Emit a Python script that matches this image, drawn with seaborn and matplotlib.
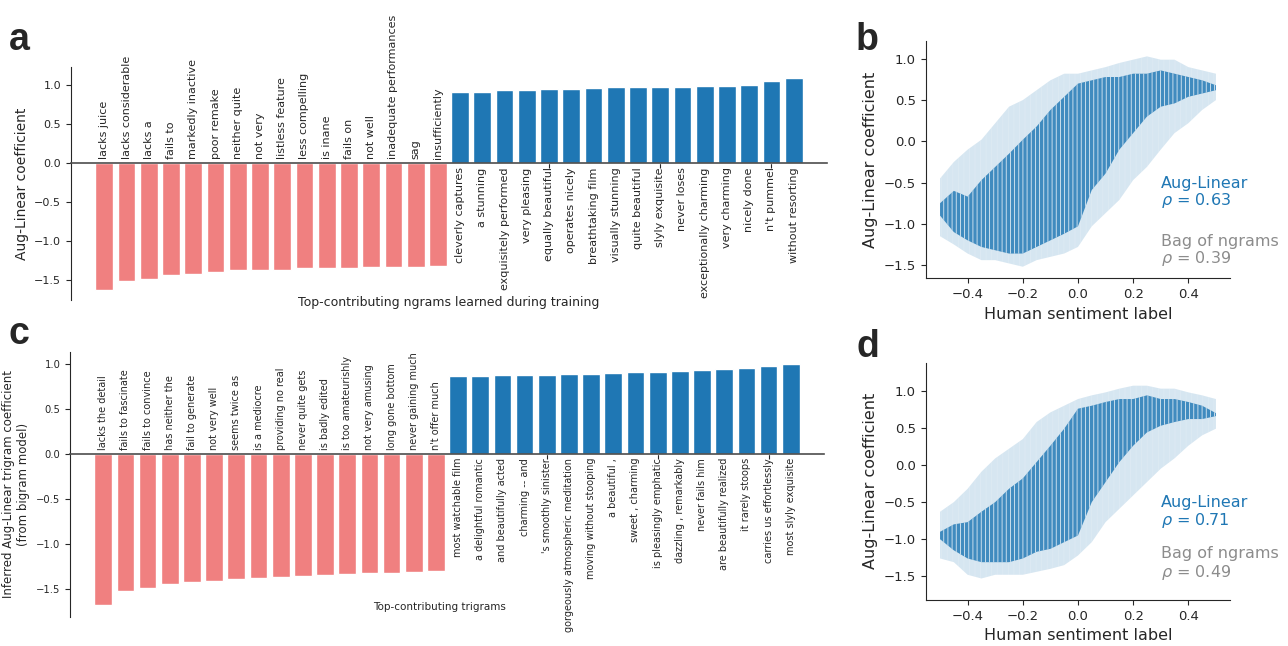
import matplotlib
matplotlib.use('Agg')
import pandas as pd
import matplotlib.pyplot as plt
import seaborn as sns

# ---- data ----
# a: top-contributing ngrams
ngram_labels = ['lacks juice', 'lacks considerable', 'lacks a', 'fails to', 'markedly inactive',
                'poor remake', 'neither quite', 'not very', 'listless feature', 'less compelling',
                'is inane', 'fails on', 'not well', 'inadequate performances', 'sag', 'insufficiently',
                'cleverly captures', 'a stunning', 'exquisitely performed', 'very pleasing',
                'equally beautiful', 'operates nicely', 'breathtaking film', 'visually stunning',
                'quite beautiful', 'slyly exquisite', 'never loses', 'exceptionally charming',
                'very charming', 'nicely done', "n't pummel", 'without resorting']
ngram_coefs = [-1.63, -1.51, -1.49, -1.44, -1.42, -1.40, -1.38, -1.38, -1.37, -1.345,
               -1.345, -1.345, -1.33, -1.33, -1.33, -1.32,
               0.92, 0.92, 0.935, 0.935, 0.947, 0.947, 0.96, 0.973,
               0.973, 0.973, 0.973, 0.986, 0.986, 1.0, 1.05, 1.10]

# c: top-contributing trigrams
trigram_labels = ['lacks the detail', 'fails to fascinate', 'fails to convince', 'has neither the',
                  'fail to generate', 'not very well', 'seems twice as', 'is a mediocre',
                  'providing no real', 'never quite gets', 'is badly edited', 'is too amateurishly',
                  'not very amusing', 'long gone bottom', 'never gaining much', "n't offer much",
                  'most watchable film', 'a delightful romantic', 'and beautifully acted',
                  'charming -- and', "'s smoothly sinister", 'gorgeously atmospheric meditation',
                  'moving without stooping', 'a beautiful ,', 'sweet , charming',
                  'is pleasingly emphatic', 'dazzling , remarkably', 'never fails him',
                  'are beautifully realized', 'it rarely stoops', 'carries us effortlessly',
                  'most slyly exquisite']
trigram_coefs = [-1.68, -1.53, -1.49, -1.445, -1.42, -1.41, -1.39, -1.38, -1.365, -1.355,
                 -1.345, -1.335, -1.32, -1.32, -1.31, -1.30,
                 0.863, 0.863, 0.874, 0.874, 0.874, 0.885, 0.885, 0.896,
                 0.907, 0.907, 0.919, 0.93, 0.941, 0.952, 0.974, 0.996]

# b/d: extent of the point cloud per human sentiment label column
sent_x = [-0.5, -0.45, -0.4, -0.35, -0.3, -0.25, -0.2, -0.15, -0.1, -0.05, 0.0,
          0.05, 0.1, 0.15, 0.2, 0.25, 0.3, 0.35, 0.4, 0.45, 0.5]
b_outer_lo = [-1.15, -1.25, -1.36, -1.44, -1.44, -1.48, -1.52, -1.44, -1.40, -1.36, -1.28,
              -1.03, -0.87, -0.71, -0.47, -0.31, -0.10, 0.10, 0.22, 0.38, 0.50]
b_outer_hi = [-0.45, -0.25, -0.10, 0.02, 0.22, 0.42, 0.50, 0.62, 0.74, 0.82, 0.82,
              0.86, 0.90, 0.95, 0.99, 1.03, 0.99, 0.99, 0.90, 0.86, 0.82]
b_core_lo = [-0.90, -1.10, -1.20, -1.28, -1.32, -1.36, -1.36, -1.28, -1.20, -1.12, -1.03,
             -0.59, -0.39, -0.10, 0.10, 0.30, 0.42, 0.46, 0.54, 0.58, 0.62]
b_core_hi = [-0.75, -0.60, -0.67, -0.47, -0.31, -0.15, 0.02, 0.18, 0.38, 0.54, 0.70,
             0.74, 0.78, 0.78, 0.82, 0.82, 0.86, 0.82, 0.78, 0.74, 0.68]

d_outer_lo = [-1.26, -1.31, -1.48, -1.53, -1.48, -1.48, -1.48, -1.44, -1.40, -1.35, -1.22,
              -1.04, -0.77, -0.59, -0.41, -0.23, -0.05, 0.09, 0.26, 0.40, 0.49]
d_outer_hi = [-0.63, -0.50, -0.32, -0.09, 0.09, 0.22, 0.35, 0.58, 0.71, 0.80, 0.89,
              0.94, 0.98, 1.03, 1.07, 1.07, 1.03, 1.03, 0.98, 0.94, 0.89]
d_core_lo = [-1.00, -1.15, -1.26, -1.31, -1.31, -1.31, -1.26, -1.17, -1.13, -1.04, -0.95,
             -0.50, -0.23, 0.04, 0.26, 0.44, 0.53, 0.58, 0.62, 0.62, 0.66]
d_core_hi = [-0.90, -0.80, -0.77, -0.63, -0.50, -0.32, -0.18, 0.04, 0.26, 0.49, 0.76,
             0.80, 0.85, 0.89, 0.89, 0.94, 0.89, 0.89, 0.85, 0.80, 0.70]

b_rho = ['0.63', '0.39']
d_rho = ['0.71', '0.49']

NEG = '#F08080'
POS = '#1f77b4'
GRAY = '#8c8c8c'

sns.set_style('ticks')
plt.rcParams['font.family'] = ['DejaVu Sans']
plt.rcParams['hatch.color'] = 'white'
plt.rcParams['hatch.linewidth'] = 0.6


def bar_panel(ax, labels, coefs, lab_size, tick_size):
    df = pd.DataFrame({'ngram': labels, 'coef': coefs})
    colors = [NEG if v < 0 else POS for v in coefs]
    sns.barplot(data=df, x='ngram', y='coef', hue='ngram', palette=colors,
                legend=False, saturation=1, width=0.8, ax=ax)
    for i, (lab, v) in enumerate(zip(labels, coefs)):
        if v < 0:
            ax.annotate(lab, (i, 0), xytext=(0, 3), textcoords='offset points',
                        rotation=90, ha='center', va='bottom', fontsize=lab_size)
        else:
            ax.annotate(lab, (i, 0), xytext=(0, -3), textcoords='offset points',
                        rotation=90, ha='center', va='top', fontsize=lab_size)
    sns.despine(ax=ax)
    ax.spines['bottom'].set_position(('data', 0))
    ax.spines['bottom'].set_color('0.3')
    ax.spines['bottom'].set_linewidth(1.2)
    ax.set_xticks(range(0, 32, 5))
    ax.set_xticklabels([])
    ax.set_yticks([-1.5, -1.0, -0.5, 0.0, 0.5, 1.0])
    ax.tick_params(axis='y', labelsize=tick_size)
    ax.set_xlim(-1.5, 32.5)


def cloud_panel(ax, outer_lo, outer_hi, core_lo, core_hi, rho, ylim, ypos):
    ax.fill_between(sent_x, outer_lo, outer_hi, facecolor=POS, alpha=0.18,
                    edgecolor='white', linewidth=0, hatch='|||')
    ax.fill_between(sent_x, core_lo, core_hi, facecolor=POS, alpha=0.82,
                    edgecolor='white', linewidth=0, hatch='||||')
    sns.despine(ax=ax)
    ax.set_xlim(-0.552, 0.551)
    ax.set_ylim(*ylim)
    ax.set_xticks([-0.4, -0.2, 0.0, 0.2, 0.4])
    ax.set_yticks([-1.5, -1.0, -0.5, 0.0, 0.5, 1.0])
    ax.tick_params(labelsize=9.5)
    ax.set_xlabel('Human sentiment label', fontsize=11.5)
    ax.set_ylabel('Aug-Linear coefficient', fontsize=11.5)
    ax.text(0.772, ypos[0], 'Aug-Linear', color=POS, fontsize=11.5,
            transform=ax.transAxes, va='baseline')
    ax.text(0.772, ypos[1], r'$\rho$ = ' + rho[0], color=POS, fontsize=11.5,
            transform=ax.transAxes, va='baseline')
    ax.text(0.772, ypos[2], 'Bag of ngrams', color=GRAY, fontsize=11.5,
            transform=ax.transAxes, va='baseline')
    ax.text(0.772, ypos[3], r'$\rho$ = ' + rho[1], color=GRAY, fontsize=11.5,
            transform=ax.transAxes, va='baseline')


fig = plt.figure(figsize=(12.88, 6.46), dpi=100)
W, H = 1288, 646
ax_a = fig.add_axes([71 / W, 1 - 300 / H, 756 / W, 233.3 / H])
ax_c = fig.add_axes([70 / W, 1 - 616.7 / H, 754 / W, 265 / H])
ax_b = fig.add_axes([925.7 / W, 1 - 278.3 / H, 304.3 / W, 237.6 / H])
ax_d = fig.add_axes([925.7 / W, 1 - 600 / H, 304.3 / W, 237.3 / H])

# a
bar_panel(ax_a, ngram_labels, ngram_coefs, 8, 8)
ax_a.set_ylim(-1.76, 1.24)
ax_a.set_ylabel('Aug-Linear coefficient', fontsize=10)
ax_a.set_xlabel('Top-contributing ngrams learned during training', fontsize=9)
ax_a.xaxis.set_label_coords(0.5, 0.017)

# c
bar_panel(ax_c, trigram_labels, trigram_coefs, 7, 7.2)
ax_c.set_ylim(-1.81, 1.133)
ax_c.set_ylabel('Inferred Aug-Linear trigram coefficient\n(from bigram model)', fontsize=8.5)
ax_c.set_xlabel('Top-contributing trigrams', fontsize=7.5)
ax_c.xaxis.set_label_coords(0.49, 0.055)

# b, d
cloud_panel(ax_b, b_outer_lo, b_outer_hi, b_core_lo, b_core_hi, b_rho,
            (-1.66, 1.22), (0.380, 0.308, 0.136, 0.064))
cloud_panel(ax_d, d_outer_lo, d_outer_hi, d_core_lo, d_core_hi, d_rho,
            (-1.82, 1.38), (0.393, 0.316, 0.176, 0.098))

# panel letters
for letter, x, y in [('a', 9, 50), ('b', 856, 50), ('c', 9, 344), ('d', 856, 357)]:
    fig.text(x / W, 1 - y / H, letter, fontsize=27, fontweight='bold',
             family='Liberation Sans', va='baseline', ha='left')

fig.savefig('out.png', dpi=100)
